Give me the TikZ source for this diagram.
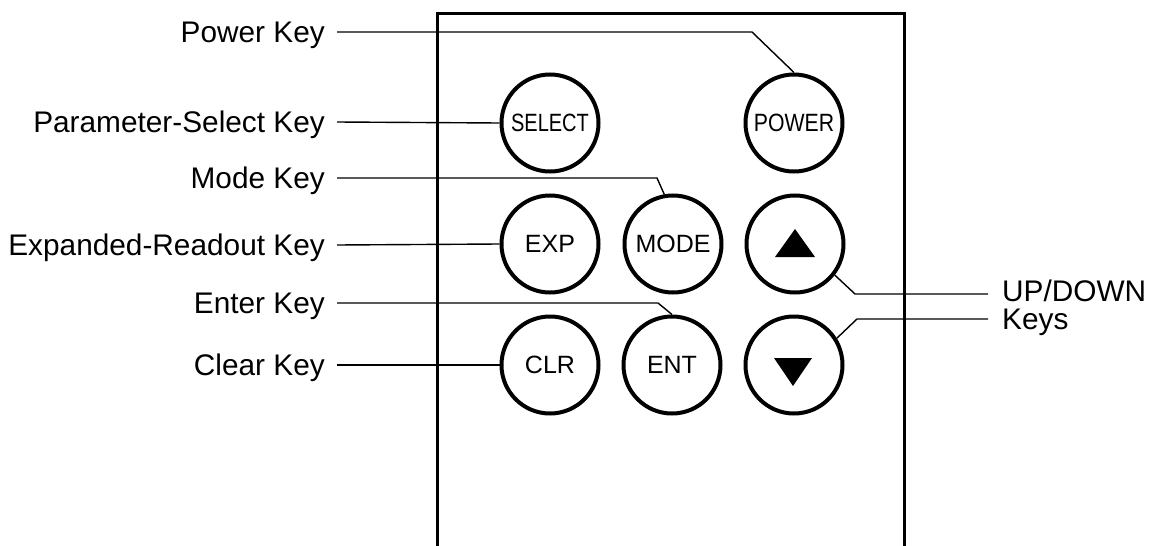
\documentclass[tikz,border=0pt]{standalone}
\usepackage{fontspec}
\setmainfont{Liberation Sans}
\begin{document}
\begin{tikzpicture}[x=1pt,y=-1pt,
  keybtn/.style={circle,draw,line width=4pt,minimum size=97pt,inner sep=0pt,
    font=\fontsize{25}{25}\selectfont},
  lbl/.style={inner sep=0pt,font=\fontsize{29.8}{30}\selectfont,text height=21pt,text depth=0pt},
  lead/.style={line width=1.4pt},
  panel/.style={line width=3pt}]
\useasboundingbox (0,0) rectangle (1163,546);
% panel outline (open at bottom)
\draw[panel] (437,546) -- (437,13) -- (904,13) -- (904,546);
% keys
\node[keybtn] (select) at (550,123) {\scalebox{0.8}[1]{SELECT}};
\node[keybtn] (power)  at (794,123) {\scalebox{0.85}[1]{POWER}};
\node[keybtn] (exp)    at (550,244) {EXP};
\node[keybtn] (mode)   at (673,244) {MODE};
\node[keybtn] (up)     at (795,244) {};
\node[keybtn] (clr)    at (550,365) {CLR};
\node[keybtn] (ent)    at (672,365) {ENT};
\node[keybtn] (down)   at (794,365) {};
\fill (775,257) -- (815,257) -- (795,229) -- cycle;
\fill (774,358) -- (812,358) -- (793,386) -- cycle;
% labels
\node[lbl,anchor=east] (lpower)  at (325,32)  {Power Key};
\node[lbl,anchor=east] (lselect) at (325,122) {Parameter-Select Key};
\node[lbl,anchor=east] (lmode)   at (325,178) {Mode Key};
\node[lbl,anchor=east] (lexp)    at (325,245) {Expanded-Readout Key};
\node[lbl,anchor=east] (lent)    at (325,303) {Enter Key};
\node[lbl,anchor=east] (lclr)    at (325,365) {Clear Key};
\node[lbl,anchor=south west] (lup) at (1002,302) {UP/DOWN};
\node[lbl,anchor=north west,text height=19pt,text depth=7pt] (lkeys) at (1002,310) {Keys};
\coordinate (upend) at (988,294);
\coordinate (keysend) at (988,319);
% leaders
\draw[lead] ([xshift=12pt]lpower.east) -- (752,32) -- (power.north);
\draw[lead] ([xshift=12pt]lselect.east) -- (select.west);
\draw[lead] ([xshift=12pt]lmode.east) -- (657,178) -- (mode.100);
\draw[lead] ([xshift=12pt]lexp.east) -- (exp.west);
\draw[lead] ([xshift=12pt]lent.east) -- (658,303) -- (ent.north);
\draw[lead] ([xshift=12pt]lclr.east) -- (clr.west);
\draw[lead] (up.-38) -- (855,294) -- (upend);
\draw[lead] (down.32) -- (857,319) -- (keysend);
\end{tikzpicture}
\end{document}
